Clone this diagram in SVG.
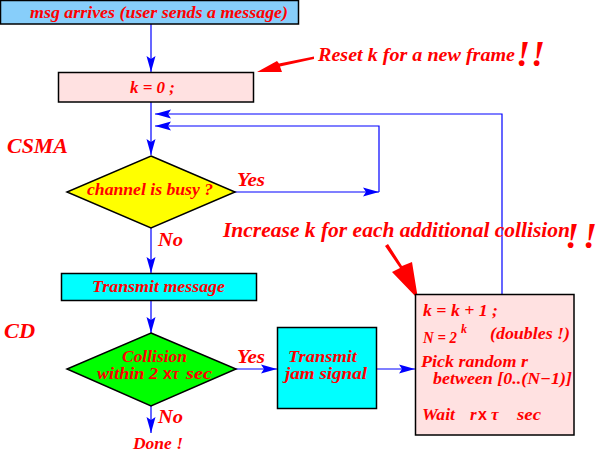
<svg xmlns="http://www.w3.org/2000/svg" width="599" height="451" viewBox="0 0 599 451">
<defs>
<style>
text{font-family:"Liberation Serif","Times New Roman",serif;font-weight:bold;font-style:italic;fill:#ff0000}
.box{stroke:#000;stroke-width:1.5}
.conn{fill:none;stroke:#0000ff;stroke-width:1.2}
.red{fill:#ff0000;stroke:none}
.sym{font-family:"Liberation Sans",Arial,sans-serif;font-style:normal}
</style>
<marker id="ah" markerUnits="userSpaceOnUse" markerWidth="18" markerHeight="10" refX="16" refY="5" orient="auto">
<path d="M0,0.5 L16,5 L0,9.5 L3,5 z" fill="#0000ff"/>
</marker>
</defs>
<rect width="599" height="451" fill="#ffffff"/>

<g id="connectors">
<path class="conn" d="M151,24 V72" marker-end="url(#ah)"/>
<path class="conn" d="M151,102 V155" marker-end="url(#ah)"/>
<path class="conn" d="M502,294 V114 H155" marker-end="url(#ah)"/>
<path class="conn" d="M235,192 H379" marker-end="url(#ah)"/>
<path class="conn" d="M379,192 V126 H155" marker-end="url(#ah)"/>
<path class="conn" d="M151,228 V273" marker-end="url(#ah)"/>
<path class="conn" d="M151,300 V333" marker-end="url(#ah)"/>
<path class="conn" d="M236,369 H277" marker-end="url(#ah)"/>
<path class="conn" d="M377,369 H415" marker-end="url(#ah)"/>
<path class="conn" d="M151,406 V433" marker-end="url(#ah)"/>
</g>

<g id="start">
<rect class="box" x="0.5" y="0.5" width="298" height="23.5" fill="#87cefa"/>
<text x="30" y="18" font-size="17" textLength="258" lengthAdjust="spacingAndGlyphs">msg arrives (user sends a message)</text>
</g>

<g id="reset">
<rect class="box" x="58.5" y="72.5" width="195" height="29.5" fill="#ffe1e1"/>
<text x="130" y="93" font-size="17" textLength="45" lengthAdjust="spacingAndGlyphs">k = 0 ;</text>
</g>

<g id="note-reset">
<path class="red" d="M314,56.5 L314,59 L280,66.5 L282,72 L257,72 L277,61 L279,63.5 z"/>
<text x="318" y="61" font-size="19" textLength="197" lengthAdjust="spacingAndGlyphs">Reset k for a new frame</text>
<text x="516" y="66" font-size="36">!</text>
<text x="531" y="66" font-size="36">!</text>
</g>

<g id="busy">
<text x="7" y="153" font-size="22" textLength="61" lengthAdjust="spacingAndGlyphs">CSMA</text>
<polygon class="box" points="151,156 235,192 151,228 67,192" fill="#ffff00" stroke-width="2"/>
<text x="87" y="195" font-size="16" textLength="126" lengthAdjust="spacingAndGlyphs">channel is busy ?</text>
<text x="237" y="186" font-size="18" textLength="28" lengthAdjust="spacingAndGlyphs">Yes</text>
<text x="158" y="246" font-size="18" textLength="25" lengthAdjust="spacingAndGlyphs">No</text>
</g>

<g id="note-increase">
<text x="223" y="237" font-size="20" textLength="347" lengthAdjust="spacingAndGlyphs">Increase k for each additional collision</text>
<text x="565" y="248" font-size="36">!</text>
<text x="583" y="248" font-size="36">!</text>
<path class="red" d="M385,246 L388,244 L402,266 L412,262 L418,299 L392,272 L400,268 z"/>
</g>

<g id="transmit">
<rect class="box" x="61.5" y="273.5" width="195" height="27" fill="#00ffff"/>
<text x="92" y="292" font-size="17" textLength="133" lengthAdjust="spacingAndGlyphs">Transmit message</text>
</g>

<g id="collision">
<text x="4" y="338" font-size="22" textLength="31" lengthAdjust="spacingAndGlyphs">CD</text>
<polygon class="box" points="151,333 236,369 151,406 67,369" fill="#00ff00" stroke-width="2"/>
<text font-size="16"><tspan x="122" y="362" textLength="65" lengthAdjust="spacingAndGlyphs">Collision</tspan><tspan x="97" y="379" textLength="61" lengthAdjust="spacingAndGlyphs">within 2</tspan><tspan class="sym" x="163" y="379">x</tspan><tspan x="172" y="379">τ</tspan><tspan x="186" y="379" textLength="26" lengthAdjust="spacingAndGlyphs">sec</tspan></text>
<text x="237" y="363" font-size="18" textLength="28" lengthAdjust="spacingAndGlyphs">Yes</text>
<text x="158" y="423" font-size="18" textLength="25" lengthAdjust="spacingAndGlyphs">No</text>
<text x="133" y="449" font-size="16" textLength="50" lengthAdjust="spacingAndGlyphs">Done !</text>
</g>

<g id="jam">
<rect class="box" x="277.5" y="327.5" width="99" height="81" fill="#00ffff"/>
<text font-size="16"><tspan x="288" y="362" textLength="69" lengthAdjust="spacingAndGlyphs">Transmit</tspan><tspan x="285" y="379" textLength="82" lengthAdjust="spacingAndGlyphs">jam signal</tspan></text>
</g>

<g id="backoff">
<rect class="box" x="415.5" y="294.5" width="158.5" height="140.5" fill="#ffe1e1"/>
<text x="423" y="316" font-size="17" textLength="75" lengthAdjust="spacingAndGlyphs">k = k + 1 ;</text>
<text font-size="17"><tspan x="423" y="343" textLength="34" lengthAdjust="spacingAndGlyphs">N = 2</tspan><tspan x="461" y="333" font-size="12">k</tspan><tspan x="490" y="339" textLength="80" lengthAdjust="spacingAndGlyphs">(doubles !)</tspan></text>
<text font-size="16"><tspan x="421" y="367" textLength="107" lengthAdjust="spacingAndGlyphs">Pick random r</tspan><tspan x="433" y="384" textLength="139" lengthAdjust="spacingAndGlyphs">between [0..(N−1)]</tspan></text>
<text font-size="17"><tspan x="422" y="420" textLength="33" lengthAdjust="spacingAndGlyphs">Wait</tspan><tspan x="470" y="420">r</tspan><tspan class="sym" x="478" y="420" font-size="16">x</tspan><tspan x="491" y="420">τ</tspan><tspan x="517" y="420" textLength="24" lengthAdjust="spacingAndGlyphs">sec</tspan></text>
</g>
</svg>
